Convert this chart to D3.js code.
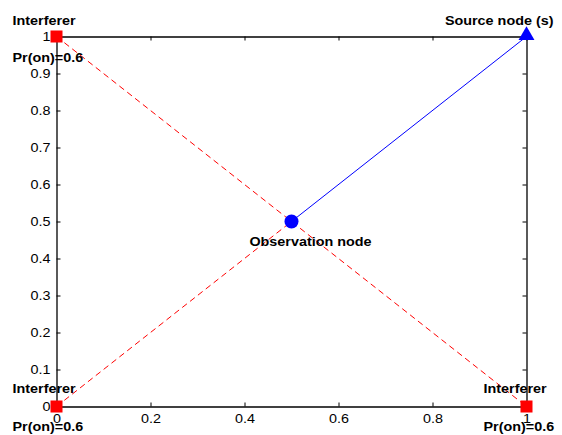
<!DOCTYPE html>
<html><head><meta charset="utf-8">
<script src="https://cdn.jsdelivr.net/npm/d3@7"></script>
<style>body{margin:0;background:#fff}svg{display:block}</style>
</head><body>
<svg id="c" width="562" height="435"></svg>
<script>
const xTicks = [0, 0.2, 0.4, 0.6, 0.8, 1];
const yTicks = [0, 0.1, 0.2, 0.3, 0.4, 0.5, 0.6, 0.7, 0.8, 0.9, 1];
const interferers = [[0, 1], [0, 0], [1, 0]];
const observation = [0.5, 0.5];
const source = [1, 1];
const redPaths = [[[0, 1], [1, 0]], [[0, 0], [0.5, 0.5]]];
const bluePath = [[0.5, 0.5], [1, 1]];
const labels = [
  {t: "Interferer", x: 0, y: 1, dx: -44, dy: -12, a: "start"},
  {t: "Pr(on)=0.6", x: 0, y: 1, dx: -44, dy: 25, a: "start"},
  {t: "Interferer", x: 0, y: 0, dx: -44, dy: -14, a: "start"},
  {t: "Pr(on)=0.6", x: 0, y: 0, dx: -44, dy: 24, a: "start"},
  {t: "Interferer", x: 1, y: 0, dx: -43, dy: -14, a: "start"},
  {t: "Pr(on)=0.6", x: 1, y: 0, dx: -43, dy: 24, a: "start"},
  {t: "Source node (s)", x: 1, y: 1, dx: 27, dy: -12, a: "end"},
  {t: "Observation node", x: 0.5, y: 0.5, dx: 19, dy: 24, a: "middle"}
];

const svg = d3.select("#c");
const x = d3.scaleLinear().domain([0, 1]).range([56.5, 526.5]);
const y = d3.scaleLinear().domain([0, 1]).range([406.5, 36.5]);
const font = "Liberation Sans, Arial, Helvetica, sans-serif";
const SX = 1.15;

function stretch(sel) {
  sel.each(function() {
    const t = d3.select(this);
    const tx = +t.attr("x") || 0, ty = +t.attr("y") || 0;
    const dy = t.attr("dy");
    t.attr("x", 0).attr("y", 0)
     .attr("transform", `translate(${tx},${ty}) scale(${SX},1)`);
  });
}

// axes
const ax = svg.append("g").attr("transform", "translate(0,406.5)")
  .call(d3.axisBottom(x).tickValues(xTicks).tickFormat(d3.format("")).tickSizeInner(-4).tickSizeOuter(0).tickPadding(8));
const at = svg.append("g").attr("transform", "translate(0,36.5)")
  .call(d3.axisTop(x).tickValues(xTicks).tickFormat("").tickSizeInner(-4).tickSizeOuter(0));
const ay = svg.append("g").attr("transform", "translate(56.5,0)")
  .call(d3.axisLeft(y).tickValues(yTicks).tickFormat(d3.format("")).tickSizeInner(-4).tickSizeOuter(0).tickPadding(6));
const ar = svg.append("g").attr("transform", "translate(526.5,0)")
  .call(d3.axisRight(y).tickValues(yTicks).tickFormat("").tickSizeInner(-4).tickSizeOuter(0));
[ax, at, ay, ar].forEach(g => {
  g.select(".domain").attr("stroke", "#000").attr("stroke-width", 1.3);
  g.selectAll(".tick line").attr("stroke", "#000");
  g.selectAll("text").attr("font-family", font).attr("font-size", 12.5).attr("fill", "#000");
});
// horizontal stretch of tick labels (keep their anchor positions)
ax.selectAll(".tick text").each(function() {
  const t = d3.select(this);
  const ty = +t.attr("y");
  t.attr("y", null).attr("transform", `translate(0,${ty}) scale(${SX},1)`);
});
ay.selectAll(".tick text").each(function() {
  const t = d3.select(this);
  const tx = +t.attr("x");
  t.attr("x", null).attr("transform", `translate(${tx},0) scale(${SX},1)`);
});

const line = d3.line().x(d => x(d[0])).y(d => y(d[1]));
svg.selectAll(".red").data(redPaths).join("path")
  .attr("d", line).attr("fill", "none").attr("stroke", "#ff0000").attr("stroke-width", 1)
  .attr("stroke-dasharray", "6,4");
svg.append("path").attr("d", line(bluePath)).attr("fill", "none").attr("stroke", "#0000ff").attr("stroke-width", 1);

svg.selectAll(".sq").data(interferers).join("rect")
  .attr("x", d => x(d[0]) - 6).attr("y", d => y(d[1]) - 6)
  .attr("width", 12).attr("height", 12).attr("fill", "#ff0000");
svg.append("circle").attr("cx", x(observation[0])).attr("cy", y(observation[1])).attr("r", 7).attr("fill", "#0000ff");
svg.append("path")
  .attr("d", d3.symbol().type(d3.symbolTriangle).size(110)())
  .attr("transform", `translate(${x(source[0])},${y(source[1]) - 1})`).attr("fill", "#0000ff");

svg.selectAll(".lbl").data(labels).join("text")
  .attr("transform", d => `translate(${x(d.x) + d.dx},${y(d.y) + d.dy}) scale(${SX},1)`)
  .attr("text-anchor", d => d.a)
  .attr("font-family", font).attr("font-size", 12.5).attr("font-weight", "bold")
  .text(d => d.t);
</script>
</body></html>
